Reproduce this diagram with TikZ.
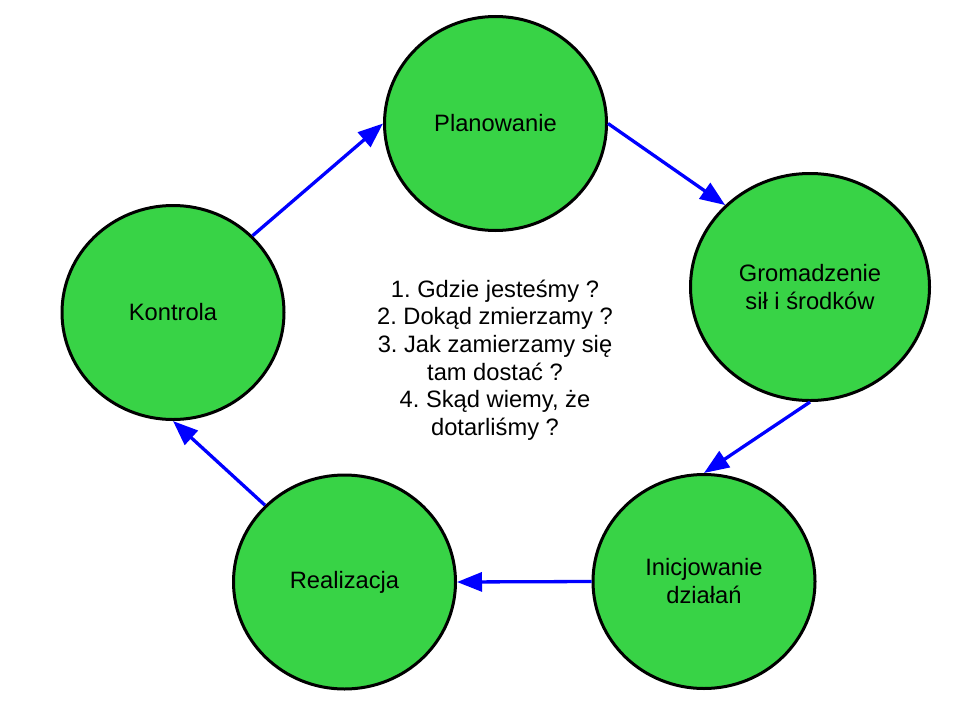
\documentclass[tikz,border=0pt]{standalone}
\usepackage{fontspec}
\setmainfont{Liberation Sans}
\usetikzlibrary{shapes.geometric,arrows.meta}
\definecolor{cfill}{RGB}{56,211,70}
\definecolor{arrblue}{RGB}{0,0,255}
\frenchspacing
\begin{document}
\begin{tikzpicture}[x=1pt,y=-1pt,
  stage/.style={ellipse,draw=black,line width=3pt,fill=cfill,inner sep=0pt,
    minimum width=222pt,minimum height=214pt,align=center,
    font=\fontsize{23.7}{28}\selectfont},
  bigstage/.style={stage,minimum width=239pt,minimum height=227pt},
  flow/.style={draw=arrblue,line width=3.3pt,-{Triangle[length=25pt,width=19pt]}}]
\useasboundingbox (0,0) rectangle (960,720);
\node[stage] (plan) at (495.5,123.5) {Planowanie};
\node[bigstage] (grom) at (810,287) {Gromadzenie\\sił i środków};
\node[stage] (inic) at (704,581.5) {Inicjowanie\\działań};
\node[stage] (real) at (344.5,582) {Realizacja};
\node[stage] (kont) at (173,312.5) {Kontrola};
\node[align=center,font=\fontsize{23.7}{27.6}\selectfont\frenchspacing] (quest) at (495,360)
  {1. Gdzie jesteśmy ?\\2. Dokąd zmierzamy ?\\3. Jak zamierzamy się\\tam dostać ?\\4. Skąd wiemy, że\\dotarliśmy ?};
\draw[flow] (kont.44) -- (plan.west);
\draw[flow] (plan.east) -- (grom.136.4);
\draw[flow] (grom.south) -- (inic.north);
\draw[flow] (inic.west) -- (real.east);
\draw[flow] (real.136) -- (kont.south);
\end{tikzpicture}
\end{document}
